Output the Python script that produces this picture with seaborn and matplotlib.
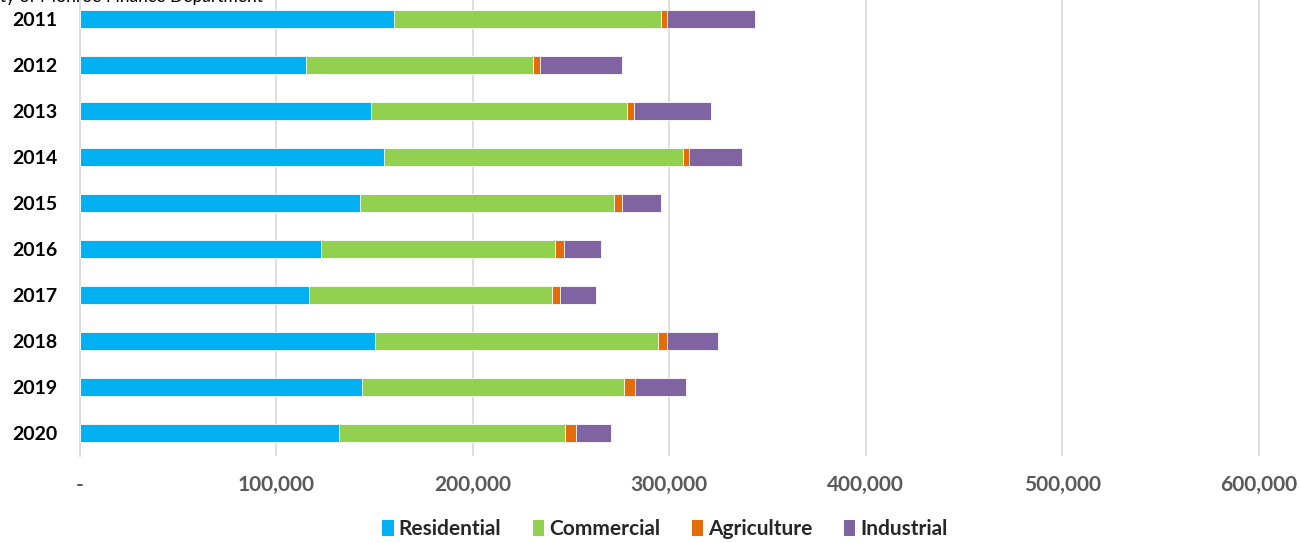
import matplotlib
matplotlib.use("Agg")
import matplotlib.pyplot as plt
import seaborn as sns
import pandas as pd
import numpy as np
from matplotlib.ticker import FuncFormatter
from matplotlib.patches import Patch

years = ["2011", "2012", "2013", "2014", "2015", "2016", "2017", "2018", "2019", "2020"]
residential = [160000, 115300, 148200, 154900, 142500, 122800, 116700, 150400, 143800, 132100]
commercial = [136000, 115500, 130500, 152100, 129500, 118800, 123600, 143900, 133100, 114600]
agriculture = [3000, 3400, 3200, 3200, 3900, 4600, 3900, 4500, 5500, 5800]
industrial = [44500, 41600, 39500, 26800, 19700, 19200, 18300, 25900, 25900, 18000]
series_names = ["Residential", "Commercial", "Agriculture", "Industrial"]
colors = ["#00B0F0", "#92D050", "#E46C0A", "#8064A2"]
xticks = [0, 100000, 200000, 300000, 400000, 500000, 600000]

sns.set_theme(style="white")
plt.rcParams['font.family'] = ['Lato', 'DejaVu Sans']

df = pd.DataFrame({"Year": years, "Residential": residential, "Commercial": commercial,
                   "Agriculture": agriculture, "Industrial": industrial})
cum = df[series_names].cumsum(axis=1)

fig = plt.figure(figsize=(12.99, 5.43), dpi=100)
ax = fig.add_axes([80/1299, 1 - 456/543, (1292-80)/1299, 460/543])

for name, col in reversed(list(zip(series_names, colors))):
    sns.barplot(x=cum[name], y=df["Year"], orient="h", color=col, width=0.4,
                saturation=1, ax=ax, edgecolor="white", linewidth=0.6, zorder=3)

ax.set_xlim(0, 617000)
ax.set_xticks(xticks)
ax.xaxis.set_major_formatter(FuncFormatter(lambda v, p: "-" if v == 0 else f"{int(v):,}"))
ax.grid(axis="x", color="#D9D9D9", linewidth=1.2, zorder=0)
ax.set_axisbelow(True)
for s in ["top", "right", "bottom"]:
    ax.spines[s].set_visible(False)
ax.spines["left"].set_color("#D9D9D9")
ax.spines["left"].set_linewidth(1.2)
ax.set_xlabel("")
ax.set_ylabel("")
ax.tick_params(axis="x", length=0, pad=14, labelsize=15, labelcolor="#595959")
ax.tick_params(axis="y", length=0, pad=16, labelsize=14, labelcolor="black")
for lab in ax.get_xticklabels() + ax.get_yticklabels():
    lab.set_fontweight("bold")

handles = [Patch(facecolor=c, edgecolor="none") for c in colors]
fig.legend(handles, series_names, loc="center", bbox_to_anchor=(0.512, 1 - 529/543),
           ncol=4, frameon=False, handlelength=0.55, handleheight=0.8, handletextpad=0.25,
           columnspacing=1.5, prop={"weight": "bold", "size": 15})

fig.text(-0.012, 1 - 2/543, "City of Monroe Finance Department", fontsize=12.5,
         va="baseline", ha="left", color="black")

fig.savefig("out.png", dpi=100)
